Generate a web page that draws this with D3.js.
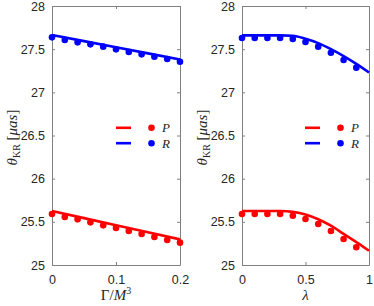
<!DOCTYPE html>
<html><head><meta charset="utf-8">
<script src="https://cdn.jsdelivr.net/npm/d3@7"></script>
<style>body{margin:0;background:#fff}svg{display:block}</style>
</head><body>
<svg id="c" width="374" height="306"></svg>
<script>
// ---- data ----
const gammaTicks = [0, 0.1, 0.2];
const lambdaTicks = [0, 0.5, 1];
const yTicks = [25, 25.5, 26, 26.5, 27, 27.5, 28];

// left panel: Gamma/M^3
const gammaLineX = [0, 0.1, 0.2];
const gammaLineR = [27.664, 27.522, 27.380];
const gammaLineP = [25.625, 25.461, 25.297];
const gammaDotX = [0, 0.02, 0.04, 0.06, 0.08, 0.10, 0.12, 0.14, 0.16, 0.18, 0.20];
const gammaDotR = [27.637, 27.606, 27.579, 27.556, 27.529, 27.498, 27.467, 27.440, 27.413, 27.386, 27.355];
const gammaDotP = [25.591, 25.556, 25.529, 25.494, 25.459, 25.428, 25.394, 25.359, 25.324, 25.289, 25.259];

// right panel: lambda
const lambdaLineX = [0, 0.1, 0.2, 0.3, 0.4, 0.5, 0.6, 0.7, 0.8, 0.9, 1.0];
const lambdaLineR = [27.66, 27.66, 27.66, 27.66, 27.655, 27.62, 27.57, 27.50, 27.42, 27.33, 27.23];
const lambdaLineP = [25.625, 25.625, 25.625, 25.625, 25.615, 25.585, 25.53, 25.455, 25.36, 25.265, 25.165];
const lambdaDotX = [0, 0.1, 0.2, 0.3, 0.4, 0.5, 0.6, 0.7, 0.8, 0.9];
const lambdaDotR = [27.629, 27.629, 27.629, 27.629, 27.618, 27.583, 27.529, 27.459, 27.375, 27.286];
const lambdaDotP = [25.591, 25.591, 25.591, 25.591, 25.571, 25.533, 25.475, 25.394, 25.301, 25.205];

const legendLabels = ["P", "R"];
const colors = {P: "#ff0000", R: "#0000ff"};

// ---- drawing ----
const svg = d3.select("#c");
svg.append("rect").attr("width", 374).attr("height", 306).attr("fill", "#fff");

const plotTop = 6, plotBottom = 265;
const panels = [
  {x0: 52, x1: 180, domain: [0, 0.2], ticks: gammaTicks, fmt: d => d === 0 ? "0" : String(d),
   lineX: gammaLineX, lineR: gammaLineR, lineP: gammaLineP,
   dotX: gammaDotX, dotR: gammaDotR, dotP: gammaDotP, xlabel: "gamma"},
  {x0: 242, x1: 369, domain: [0, 1], ticks: lambdaTicks, fmt: d => String(d),
   lineX: lambdaLineX, lineR: lambdaLineR, lineP: lambdaLineP,
   dotX: lambdaDotX, dotR: lambdaDotR, dotP: lambdaDotP, xlabel: "lambda"}
];

const axisColor = "#808080";
const textColor = "#262626";

panels.forEach(p => {
  const x = d3.scaleLinear().domain(p.domain).range([p.x0, p.x1]);
  const y = d3.scaleLinear().domain([25, 28]).range([plotBottom, plotTop]);
  const g = svg.append("g");

  const ax = (axis, tx, ty) => {
    const a = g.append("g").attr("transform", `translate(${tx},${ty})`).call(axis);
    a.select(".domain").attr("stroke", axisColor);
    a.selectAll(".tick line").attr("stroke", axisColor);
    a.selectAll("text").attr("fill", textColor).attr("font-family", "Liberation Sans, Arial, sans-serif").attr("font-size", 12.5);
    return a;
  };
  ax(d3.axisBottom(x).tickValues(p.ticks).tickFormat(p.fmt).tickSizeInner(-3).tickSizeOuter(0).tickPadding(10), 0, plotBottom);
  ax(d3.axisTop(x).tickValues(p.ticks).tickFormat("").tickSizeInner(-3).tickSizeOuter(0), 0, plotTop);
  ax(d3.axisLeft(y).tickValues(yTicks).tickFormat(d => String(d)).tickSizeInner(-3).tickSizeOuter(0).tickPadding(7), p.x0, 0);
  ax(d3.axisRight(y).tickValues(yTicks).tickFormat("").tickSizeInner(-3).tickSizeOuter(0), p.x1, 0);

  const line = d3.line().x(d => x(d[0])).y(d => y(d[1])).curve(d3.curveMonotoneX);
  [["P", p.lineP], ["R", p.lineR]].forEach(([k, arr]) => {
    g.append("path").datum(p.lineX.map((v, i) => [v, arr[i]]))
      .attr("d", line).attr("fill", "none").attr("stroke", colors[k]).attr("stroke-width", 2.6);
  });
  [["P", p.dotP], ["R", p.dotR]].forEach(([k, arr]) => {
    g.selectAll(null).data(p.dotX.map((v, i) => [v, arr[i]])).enter().append("circle")
      .attr("cx", d => x(d[0])).attr("cy", d => y(d[1])).attr("r", 3.3).attr("fill", colors[k]);
  });

  legendLabels.forEach((k, i) => {
    const ly = 127.8 + i * 15.4;
    g.append("line").attr("x1", p.x1 - 64).attr("x2", p.x1 - 49).attr("y1", ly).attr("y2", ly)
      .attr("stroke", colors[k]).attr("stroke-width", 2.6);
    g.append("circle").attr("cx", p.x1 - 28.5).attr("cy", ly).attr("r", 3.3).attr("fill", colors[k]);
    g.append("text").attr("x", p.x1 - 18).attr("y", ly + 4.5).text(k)
      .attr("font-family", "Liberation Serif, serif").attr("font-style", "italic").attr("font-size", 13).attr("fill", textColor);
  });

  const yl = g.append("text").attr("transform", `translate(${p.x0 - 35},${(plotTop + plotBottom) / 2 + 2}) rotate(-90)`)
    .attr("text-anchor", "middle").attr("font-family", "Liberation Serif, serif").attr("font-size", 15).attr("fill", textColor);
  yl.append("tspan").attr("font-style", "italic").text("θ");
  yl.append("tspan").attr("font-size", 10).attr("dy", 3).text("KR");
  yl.append("tspan").attr("dy", -3).text(" [");
  yl.append("tspan").attr("font-style", "italic").text("μas");
  yl.append("tspan").text("]");

  const xm = (p.x0 + p.x1) / 2;
  const xl = g.append("text").attr("x", xm).attr("y", 300).attr("text-anchor", "middle")
    .attr("font-family", "Liberation Serif, serif").attr("font-size", 15).attr("fill", textColor);
  if (p.xlabel === "gamma") {
    xl.append("tspan").text("Γ/");
    xl.append("tspan").attr("font-style", "italic").text("M");
    xl.append("tspan").attr("font-size", 10).attr("dy", -6).text("3");
  } else {
    xl.append("tspan").attr("font-style", "italic").text("λ");
  }
});
</script>
</body></html>
